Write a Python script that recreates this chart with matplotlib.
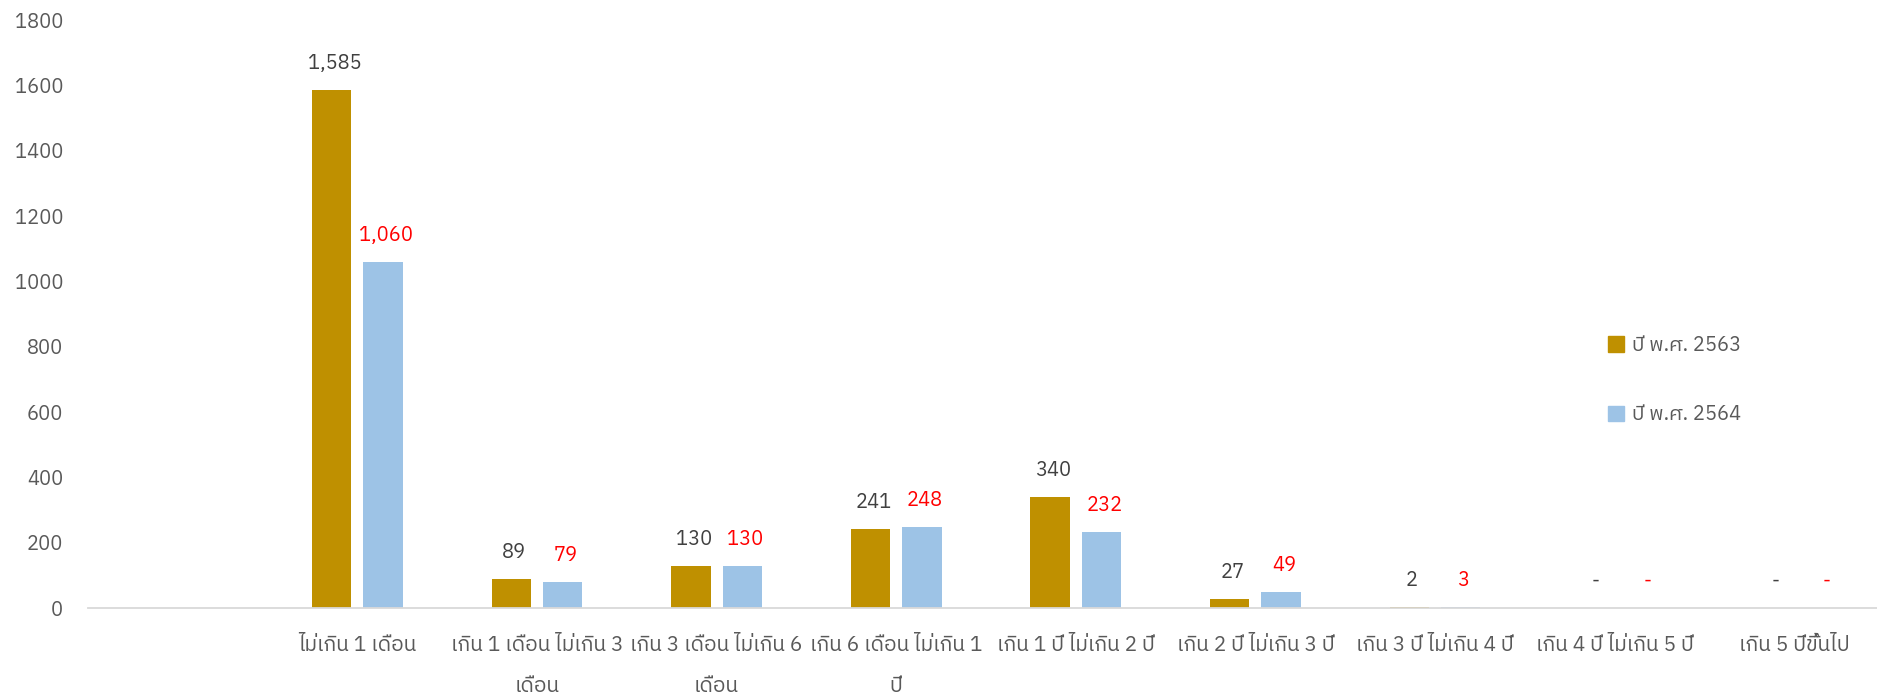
import matplotlib
matplotlib.use("Agg")
import matplotlib.pyplot as plt
from matplotlib import font_manager
from matplotlib.ft2font import FT2Font
from matplotlib.patches import Patch
import numpy as np


categories = [
    "",
    "ไม่เกิน 1 เดือน",
    "เกิน 1 เดือน ไม่เกิน 3\nเดือน",
    "เกิน 3 เดือน ไม่เกิน 6\nเดือน",
    "เกิน 6 เดือน ไม่เกิน 1\nปี",
    "เกิน 1 ปี ไม่เกิน 2 ปี",
    "เกิน 2 ปี ไม่เกิน 3 ปี",
    "เกิน 3 ปี ไม่เกิน 4 ปี",
    "เกิน 4 ปี ไม่เกิน 5 ปี",
    "เกิน 5 ปีขึ้นไป",
]
# None = empty slot, 0 is shown as "-"
values_2563 = [None, 1585, 89, 130, 241, 340, 27, 2, 0, 0]
values_2564 = [None, 1060, 79, 130, 248, 232, 49, 3, 0, 0]
series_names = ["ปี พ.ศ. 2563", "ปี พ.ศ. 2564"]
y_ticks = [0, 200, 400, 600, 800, 1000, 1200, 1400, 1600, 1800]

GOLD = "#BF9000"
BLUE = "#9DC3E6"
TEXT = "#595959"


def find_thai_font():
    preferred = ["thai", "leelawadee", "tahoma", "sarabun", "loma", "garuda", "kinnari", "norasi"]
    hits = []
    for entry in font_manager.fontManager.ttflist:
        try:
            cmap = FT2Font(entry.fname).get_charmap()
        except Exception:
            continue
        if 0x0E01 in cmap and 0x0E40 in cmap:
            hits.append(entry.name)
    for key in preferred:
        for name in hits:
            if key in name.lower():
                return name
    return hits[0] if hits else None


thai = find_thai_font()
families = [thai, "DejaVu Sans"] if thai else ["DejaVu Sans"]
plt.rcParams["font.family"] = families

fig = plt.figure(figsize=(18.77, 6.93), dpi=100)
ax = fig.add_axes([88 / 1877, 85 / 693, 1796 / 1877, 588 / 693])

x = np.arange(len(categories))
width = 0.22
offset = 0.143

h1 = [v if v is not None else 0 for v in values_2563]
h2 = [v if v is not None else 0 for v in values_2564]
ax.bar(x - offset, h1, width, color=GOLD, zorder=2)
ax.bar(x + offset, h2, width, color=BLUE, zorder=2)


def label(v):
    return "-" if v == 0 else f"{v:,}"


for i in range(len(categories)):
    for v, dx, col in ((values_2563[i], -offset, "#404040"), (values_2564[i], offset, "#FF0000")):
        if v is None:
            continue
        # accounting-style labels sit a little right of the bar centre
        shift = 5 if v == 0 else 2
        ax.annotate(label(v), (x[i] + dx, v), xytext=(shift, 19), textcoords="offset points",
                    ha="center", va="center", fontsize=14.5, color=col)

ax.set_xlim(-0.5, len(categories) - 0.5)
ax.set_ylim(0, 1800)
ax.set_yticks(y_ticks)
ax.set_yticklabels([str(t) for t in y_ticks], fontsize=14.5, color=TEXT)
ax.set_xticks(x)
ax.set_xticklabels(categories, fontsize=15, color=TEXT, linespacing=2.45)
ax.tick_params(axis="both", length=0)
ax.tick_params(axis="x", pad=20)
ax.tick_params(axis="y", pad=18)

for side in ("top", "right", "left"):
    ax.spines[side].set_visible(False)
ax.spines["bottom"].set_color("#D9D9D9")
ax.spines["bottom"].set_linewidth(1.3)

handles = [Patch(color=GOLD), Patch(color=BLUE)]
fig.legend(handles, series_names, loc="upper left", bbox_to_anchor=(1590 / 1877, 1 - 318 / 693),
           frameon=False, fontsize=14.5, labelcolor=TEXT, handlelength=0.8, handleheight=0.8,
           handletextpad=0.4, labelspacing=2.5)

fig.savefig("out.png", dpi=100)
